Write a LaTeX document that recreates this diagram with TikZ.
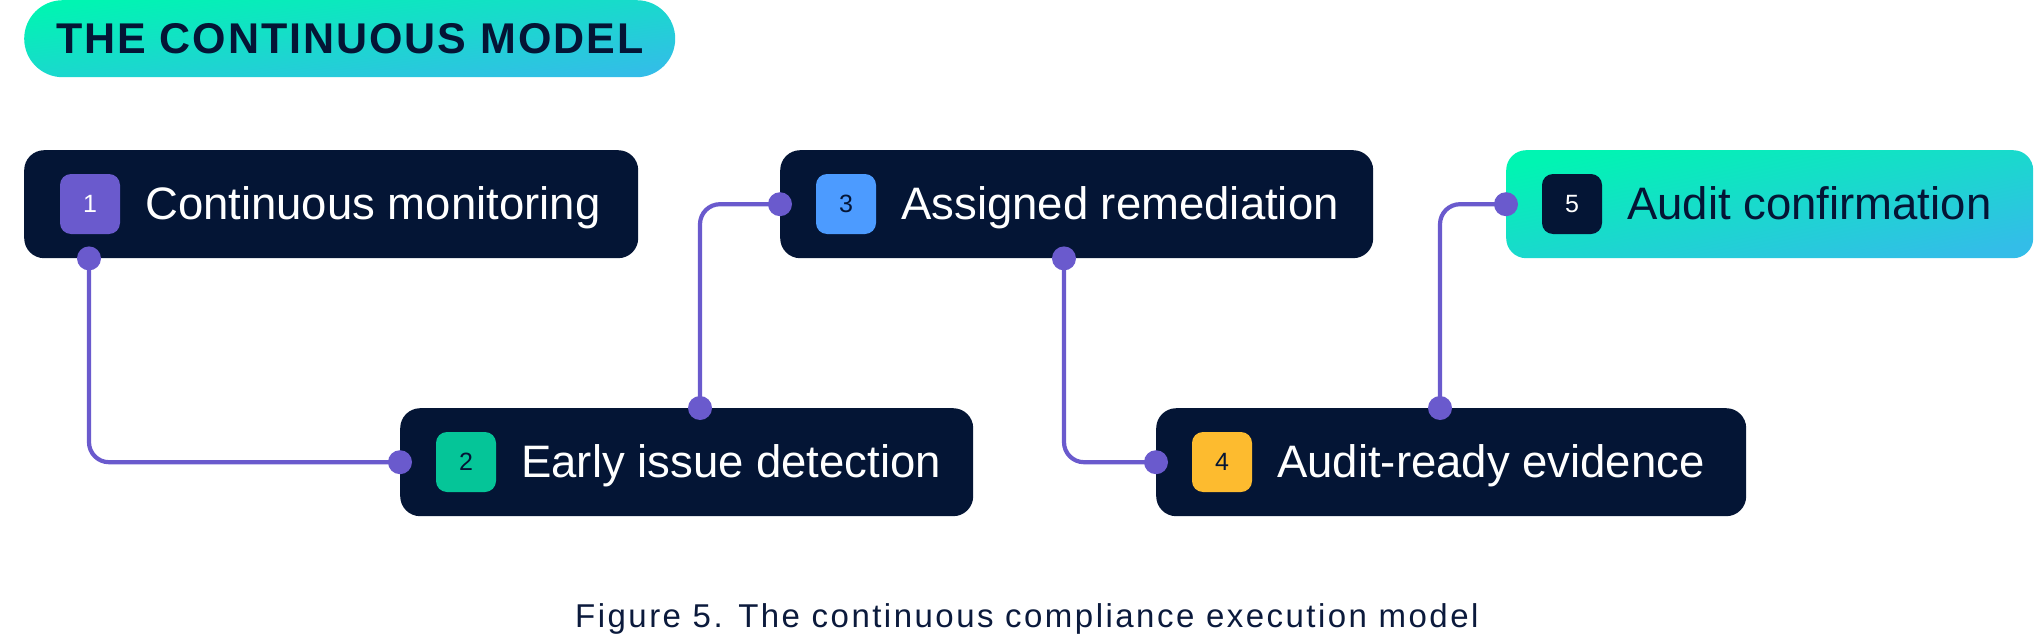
\documentclass[tikz,border=0pt]{standalone}
\usepackage{fontspec}
\setmainfont{Liberation Sans}
\newfontfamily\titlefont[LetterSpace=4.5]{Liberation Sans}
\newfontfamily\capfont[LetterSpace=7.5]{Liberation Sans}
\definecolor{navy}{HTML}{041535}
\definecolor{connc}{HTML}{6A5ACD}
\definecolor{bgreen}{HTML}{05C598}
\definecolor{bblue}{HTML}{4C9BFF}
\definecolor{bamber}{HTML}{FDBB2F}
\definecolor{gA}{HTML}{00F5B2}
\definecolor{gB}{HTML}{33BDE8}
\definecolor{captc}{HTML}{0B1A3C}
\pgfdeclarehorizontalshading{brandgrad}{100bp}{color(0bp)=(gA); color(25bp)=(gA); color(75bp)=(gB); color(100bp)=(gB)}
\begin{document}
\begin{tikzpicture}[x=1pt,y=-1pt,
  box/.style={rounded corners=20pt, fill=navy, minimum height=108pt, inner sep=0pt, anchor=north west},
  gradbox/.style={rounded corners=20pt, shade, shading=brandgrad, shading angle=-78.4, minimum height=108pt, inner sep=0pt, anchor=north west},
  badge/.style={rounded corners=11pt, minimum width=60pt, minimum height=60pt, inner sep=0pt, font=\fontsize{25}{25}\selectfont},
  steplabel/.style={text=white, font=\fontsize{45.5}{50}\selectfont, anchor=base west, inner sep=0pt},
  conn/.style={draw=connc, line width=4.2pt, rounded corners=20pt},
  dotc/.style={fill=connc}]
\useasboundingbox (0,0) rectangle (2035,642);
% title
\node[shade, shading=brandgrad, shading angle=-83.25, rounded corners=38.5pt, minimum width=651pt, minimum height=77pt, inner sep=0pt, anchor=north west] (title) at (24,0) {};
\node[anchor=base west, inner sep=0pt, text=navy, font=\titlefont\bfseries\fontsize{43}{45}\selectfont] (titletxt) at (56,54) {THE CONTINUOUS MODEL};
% boxes
\node[box, minimum width=614pt] (b1) at (24,150) {};
\node[box, minimum width=573pt] (b2) at (400,408) {};
\node[box, minimum width=593pt] (b3) at (780,150) {};
\node[box, minimum width=590pt] (b4) at (1156,408) {};
\node[gradbox, minimum width=527pt] (b5) at (1506,150) {};
% badges
\node[badge, fill=connc, text=white] (n1) at (90,204) {1};
\node[badge, fill=bgreen, text=navy] (n2) at (466,462) {2};
\node[badge, fill=bblue, text=navy] (n3) at (846,204) {3};
\node[badge, fill=bamber, text=navy] (n4) at (1222,462) {4};
\node[badge, fill=navy, text=white] (n5) at (1572,204) {5};
% labels
\node[steplabel] (t1) at (145,219.5) {Continuous monitoring};
\node[steplabel] (t2) at (521,477.5) {Early issue detection};
\node[steplabel] (t3) at (901,219.5) {Assigned remediation};
\node[steplabel] (t4) at (1277,477.5) {Audit-ready evidence};
\node[steplabel, text=navy] (t5) at (1627,219.5) {Audit confirmation};
% connector endpoints
\coordinate (p1) at ([xshift=65pt]b1.south west);
\coordinate (p2) at ([xshift=300pt]b2.north west);
\coordinate (p3) at ([xshift=284pt]b3.south west);
\coordinate (p4) at ([xshift=284pt]b4.north west);
\draw[conn] (p1) |- (b2.west);
\draw[conn] (p2) |- (b3.west);
\draw[conn] (p3) |- (b4.west);
\draw[conn] (p4) |- (b5.west);
\foreach \p in {p1,p2,p3,p4} \fill[dotc] (\p) circle[radius=12pt];
\foreach \p in {b2.west,b3.west,b4.west,b5.west} \fill[dotc] (\p) circle[radius=12pt];
% caption
\node[anchor=base west, inner sep=0pt, text=captc, font=\capfont\fontsize{33}{35}\selectfont] (cap) at (575,627) {Figure 5. The continuous compliance execution model};
\end{tikzpicture}
\end{document}
